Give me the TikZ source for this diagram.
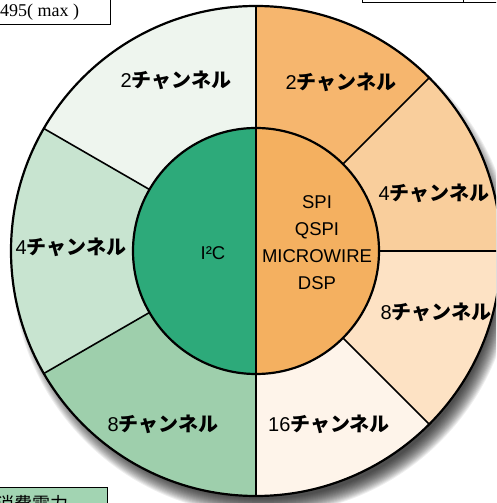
\documentclass[tikz,border=0pt]{standalone}
\usepackage{fontspec}
\setmainfont{Liberation Sans}
\newfontfamily\jpfont{Noto Sans CJK JP}
\newfontfamily\serifen{Liberation Serif}
\definecolor{ingreen}{RGB}{45,170,122}
\definecolor{inorange}{RGB}{244,176,96}
\definecolor{gA}{RGB}{238,245,238}
\definecolor{gB}{RGB}{200,228,208}
\definecolor{gC}{RGB}{158,207,172}
\definecolor{oA}{RGB}{246,182,110}
\definecolor{oB}{RGB}{249,206,156}
\definecolor{oC}{RGB}{253,226,196}
\definecolor{oD}{RGB}{254,244,234}
\definecolor{boxgreen}{RGB}{162,212,178}
\newcommand\Ro{245}
\newcommand\Ri{123}
\newcommand\wedgefill[3]{\fill[#3] (c) -- ([shift={(#1:\Ro)}]c) arc[start angle=#1,end angle=#2,radius=\Ro] -- cycle;}
\newcommand\divline[1]{\draw[seg] ([shift={(#1:\Ri)}]c) -- ([shift={(#1:\Ro)}]c);}
\begin{document}
\begin{tikzpicture}[x=1pt,y=1pt,
  lab/.style={inner sep=0pt, font=\fontsize{20}{24}\selectfont},
  inn/.style={inner sep=0pt, align=center, font=\fontsize{18.5}{27}\selectfont},
  seg/.style={draw=black, line width=1.6pt},
  rim/.style={draw=black, line width=2.2pt},
  frame/.style={draw=black, line width=1pt}]
\useasboundingbox (0,0) rectangle (496,503);
\clip (0,0) rectangle (496,503);
\coordinate (c) at (256,252);
\coordinate (sc) at (263,239);
% shadow
\foreach \i in {0,...,16} {\fill[black,opacity=0.065] (sc) circle ({235+\i});}
% outer wedges
\wedgefill{90}{150}{gA}
\wedgefill{150}{210}{gB}
\wedgefill{210}{270}{gC}
\wedgefill{45}{90}{oA}
\wedgefill{0}{45}{oB}
\wedgefill{-45}{0}{oC}
\wedgefill{-90}{-45}{oD}
% inner halves
\fill[ingreen] ([shift={(90:\Ri)}]c) arc[start angle=90,end angle=270,radius=\Ri] -- cycle;
\fill[inorange] ([shift={(-90:\Ri)}]c) arc[start angle=-90,end angle=90,radius=\Ri] -- cycle;
% dividers
\divline{150}
\divline{210}
\divline{45}
\divline{0}
\divline{-45}
\draw[seg] ([shift={(90:\Ro)}]c) -- ([shift={(-90:\Ro)}]c);
\draw[rim] (c) circle (\Ri);
\draw[rim] (c) circle (\Ro);
% labels
\node[lab] (l2) at (176,423) {2{\jpfont\bfseries チャンネル}};
\node[lab] (l4) at (71,256) {4{\jpfont\bfseries チャンネル}};
\node[lab] (l8) at (163,79) {8{\jpfont\bfseries チャンネル}};
\node[lab] (r2) at (341,421) {2{\jpfont\bfseries チャンネル}};
\node[lab] (r4) at (434,310) {4{\jpfont\bfseries チャンネル}};
\node[lab] (r8) at (436,191) {8{\jpfont\bfseries チャンネル}};
\node[lab] (r16) at (329,79) {16{\jpfont\bfseries チャンネル}};
\node[inn] (i2c) at (213,250) {I²C};
\node[inn] (spi) at (317,260.5) {SPI\\QSPI\\MICROWIRE\\DSP};
% partial frames
\draw[frame] (-2,478) rectangle (110,506);
\node[inner sep=0pt, anchor=base west, font=\serifen\fontsize{18}{20}\selectfont] (mx) at (0,486) {495( max )};
\draw[frame] (362,506) -- (362,500) -- (500,500);
\draw[frame] (463,500) -- (463,506);
\draw[frame, fill=boxgreen] (-2,15) rectangle (107,-5);
\node[inner sep=0pt, anchor=base west, font=\jpfont\fontsize{18}{20}\selectfont] (pw) at (-4,-8) {消費電力};
\end{tikzpicture}
\end{document}
